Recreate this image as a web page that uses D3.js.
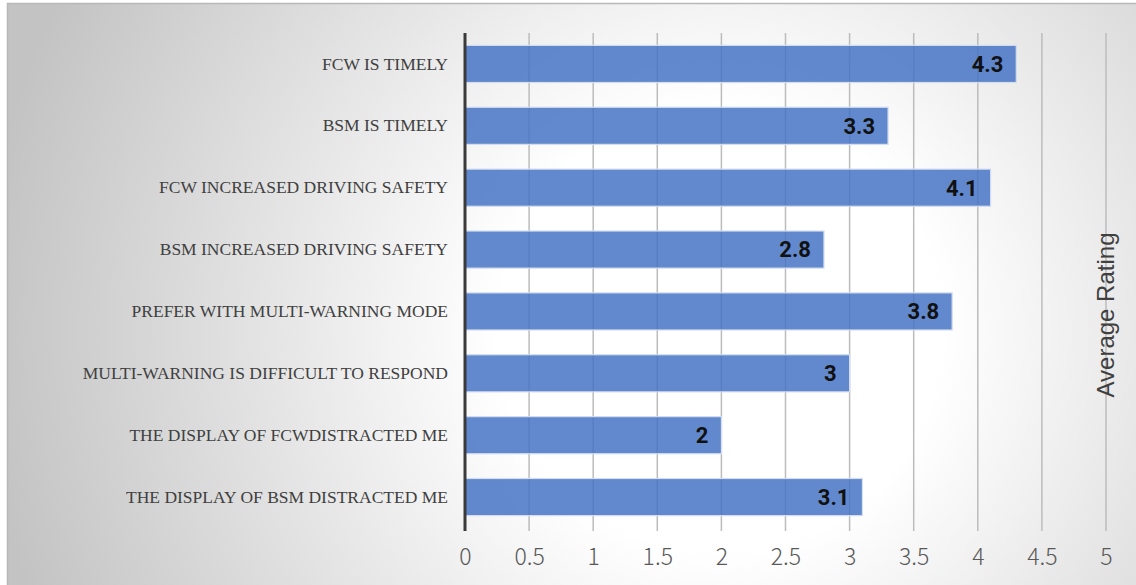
<!DOCTYPE html>
<html>
<head>
<meta charset="utf-8">
<script src="https://cdn.jsdelivr.net/npm/d3@7"></script>
<style>
  html, body { margin: 0; padding: 0; background: #ffffff; }
  svg { display: block; }
</style>
</head>
<body>
<svg id="chart" width="1136" height="585"></svg>
<script>
// Survey statements and their average ratings (top to bottom)
const statements = [
  "FCW IS TIMELY",
  "BSM IS TIMELY",
  "FCW INCREASED DRIVING SAFETY",
  "BSM INCREASED DRIVING SAFETY",
  "PREFER WITH MULTI-WARNING MODE",
  "MULTI-WARNING IS DIFFICULT TO RESPOND",
  "THE DISPLAY OF FCWDISTRACTED ME",
  "THE DISPLAY OF BSM DISTRACTED ME"
];
const ratings = [4.3, 3.3, 4.1, 2.8, 3.8, 3, 2, 3.1];
const tickValues = [0, 0.5, 1, 1.5, 2, 2.5, 3, 3.5, 4, 4.5, 5];
const axisTitle = "Average Rating";

const svg = d3.select("#chart");
const W = 1136, H = 585;
const plot = { left: 465, right: 1106, top: 33, bottom: 528 };

// Soft radial background of the chart area
const defs = svg.append("defs");
const grad = defs.append("radialGradient")
  .attr("id", "bg")
  .attr("gradientUnits", "userSpaceOnUse")
  .attr("cx", 720).attr("cy", 330).attr("r", 740);
grad.append("stop").attr("offset", "0").attr("stop-color", "#ffffff");
grad.append("stop").attr("offset", "0.3").attr("stop-color", "#ffffff");
grad.append("stop").attr("offset", "1").attr("stop-color", "#c3c3c3");

svg.append("rect")
  .attr("x", 7.5).attr("y", 3.5)
  .attr("width", W).attr("height", H)
  .attr("fill", "url(#bg)")
  .attr("stroke", "#b8b8b8").attr("stroke-width", 1.5);

const x = d3.scaleLinear().domain([0, 5]).range([plot.left, plot.right]);
const y = d3.scaleBand().domain(statements)
  .range([plot.top, plot.bottom])
  .paddingInner(0.4).paddingOuter(0.2);

// Vertical gridlines
svg.append("g").selectAll("line")
  .data(tickValues.filter(v => v > 0))
  .join("line")
  .attr("x1", d => x(d)).attr("x2", d => x(d))
  .attr("y1", plot.top).attr("y2", plot.bottom + 3)
  .attr("stroke", "#bcbcbc").attr("stroke-width", 1.5);

// Bars
svg.append("g").selectAll("rect")
  .data(ratings)
  .join("rect")
  .attr("x", x(0))
  .attr("y", (d, i) => y(statements[i]))
  .attr("width", d => x(d) - x(0))
  .attr("height", y.bandwidth())
  .attr("fill", "#4472c4").attr("fill-opacity", 0.84)
  .attr("stroke", "#d3ddf0").attr("stroke-width", 1.2);

// Value labels inside bar ends
svg.append("g").selectAll("text")
  .data(ratings)
  .join("text")
  .attr("x", d => x(d) - 13)
  .attr("y", (d, i) => y(statements[i]) + y.bandwidth() / 2)
  .attr("dy", "0.36em")
  .attr("text-anchor", "end")
  .attr("font-family", "Roboto, 'Liberation Sans', sans-serif")
  .attr("font-weight", 700)
  .attr("font-size", 22)
  .attr("fill", "#111111")
  .text(d => String(d));

// Category axis (left)
const yAxis = svg.append("g")
  .attr("transform", `translate(${plot.left},0)`)
  .call(d3.axisLeft(y).tickSize(0).tickPadding(17));
yAxis.select(".domain").remove();
yAxis.selectAll("text")
  .attr("font-family", "'Liberation Serif', 'DejaVu Serif', serif")
  .attr("font-size", 17.5)
  .attr("fill", "#404040");

// Value axis labels (bottom)
const xAxis = svg.append("g")
  .attr("transform", `translate(0,${plot.bottom})`)
  .call(d3.axisBottom(x).tickValues(tickValues).tickSize(0).tickPadding(21)
    .tickFormat(d3.format("~g")));
xAxis.select(".domain").remove();
xAxis.selectAll("text")
  .attr("font-family", "'Noto Sans CJK JP', 'Noto Sans', sans-serif")
  .attr("font-weight", 300)
  .attr("font-size", 23)
  .attr("fill", "#595959");

// Dark baseline at zero
svg.append("line")
  .attr("x1", x(0)).attr("x2", x(0))
  .attr("y1", plot.top).attr("y2", plot.bottom + 3)
  .attr("stroke", "#3a3a3a").attr("stroke-width", 3);

// Value axis title, placed at the right edge
svg.append("text")
  .attr("transform", `translate(${x(5) + 8},${315}) rotate(-90)`)
  .attr("text-anchor", "middle")
  .attr("font-family", "'Liberation Sans', Arial, sans-serif")
  .attr("font-size", 24)
  .attr("fill", "#404040")
  .text(axisTitle);
</script>
</body>
</html>
